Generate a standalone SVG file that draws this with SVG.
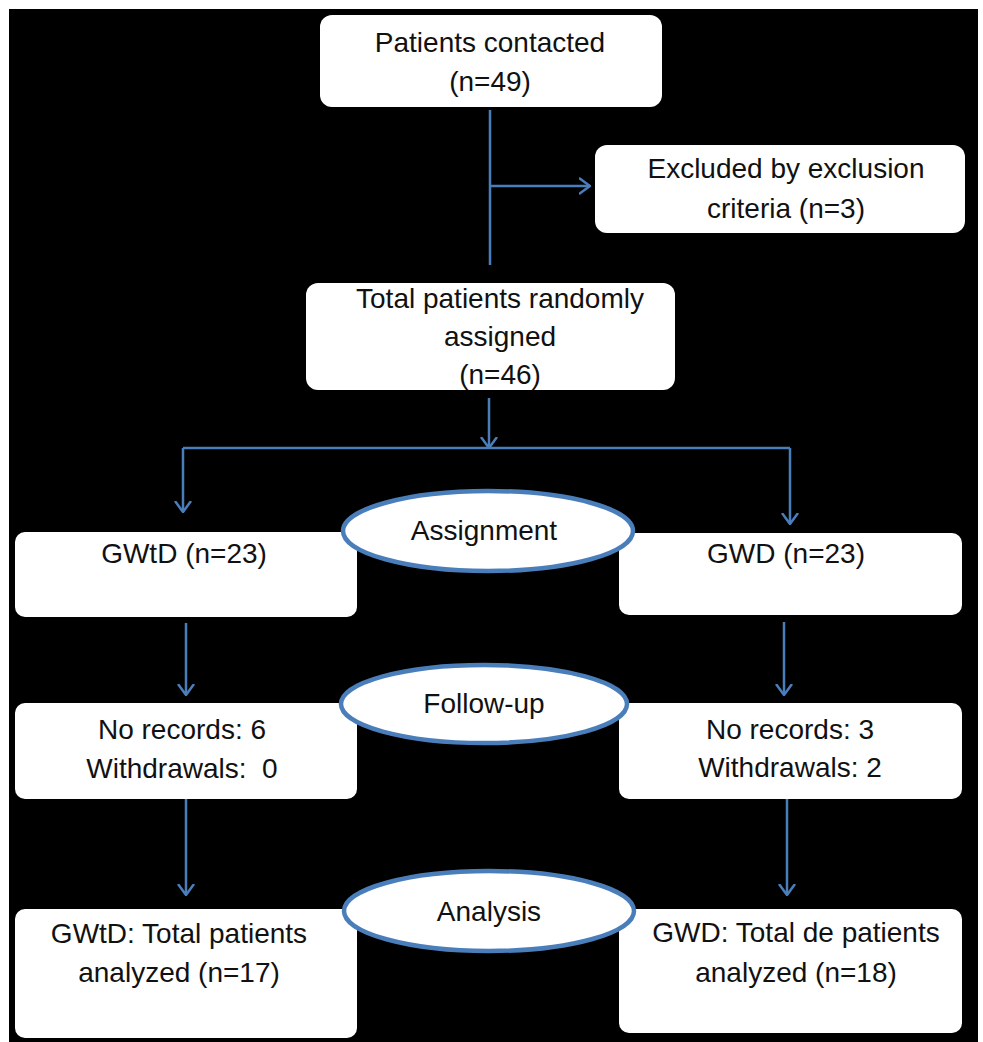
<svg xmlns="http://www.w3.org/2000/svg" width="983" height="1042" viewBox="0 0 983 1042">
<style>
.box{fill:#fff;stroke:none}
.ell{fill:#fff;stroke:#4a7ebb;stroke-width:4.5}
.t{font-family:"Liberation Sans",Arial,sans-serif;font-size:28px;fill:#111;text-anchor:middle}
.c{stroke:#4a7ebb;stroke-width:2.5;fill:none}
</style>
<defs>
<marker id="ah" viewBox="0 0 12 18" refX="11" refY="9" markerWidth="12" markerHeight="18" markerUnits="userSpaceOnUse" orient="auto">
<path d="M0,1 L11,9 L0,17" fill="none" stroke="#4a7ebb" stroke-width="2.5"/>
</marker>
</defs>
<rect x="0" y="0" width="983" height="1042" fill="#fff"/>
<rect x="9" y="9" width="969" height="1033" fill="#000"/>
<g id="connectors">
<line class="c" x1="490" y1="110" x2="490" y2="265"/>
<line class="c" x1="490" y1="186" x2="590" y2="186" marker-end="url(#ah)"/>
<line class="c" x1="489" y1="398" x2="489" y2="448" marker-end="url(#ah)"/>
<line class="c" x1="183" y1="448" x2="790" y2="448"/>
<line class="c" x1="183" y1="448" x2="183" y2="512" marker-end="url(#ah)"/>
<line class="c" x1="790" y1="448" x2="790" y2="524" marker-end="url(#ah)"/>
<line class="c" x1="186" y1="623" x2="186" y2="695" marker-end="url(#ah)"/>
<line class="c" x1="784" y1="622" x2="784" y2="695" marker-end="url(#ah)"/>
<line class="c" x1="186" y1="799" x2="186" y2="895" marker-end="url(#ah)"/>
<line class="c" x1="787" y1="799" x2="787" y2="895" marker-end="url(#ah)"/>
</g>
<g id="contacted">
<rect class="box" x="320" y="15" width="342" height="92" rx="12"/>
<text class="t" x="490" y="52">Patients contacted</text>
<text class="t" x="490" y="91">(n=49)</text>
</g>
<g id="excluded">
<rect class="box" x="595" y="145" width="370" height="88" rx="12"/>
<text class="t" x="786" y="178">Excluded by exclusion</text>
<text class="t" x="786" y="218">criteria (n=3)</text>
</g>
<g id="randomized">
<rect class="box" x="306" y="283" width="369" height="107" rx="12"/>
<text class="t" x="500" y="308">Total patients randomly</text>
<text class="t" x="500" y="346">assigned</text>
<text class="t" x="500" y="384">(n=46)</text>
</g>
<g id="gwtd">
<rect class="box" x="15" y="532" width="342" height="85" rx="10"/>
<text class="t" x="184" y="563">GWtD (n=23)</text>
</g>
<g id="gwd">
<rect class="box" x="619" y="533" width="343" height="82" rx="10"/>
<text class="t" x="786" y="563">GWD (n=23)</text>
</g>
<g id="gwtd-follow">
<rect class="box" x="15" y="703" width="342" height="96" rx="10"/>
<text class="t" x="182" y="739">No records: 6</text>
<text class="t" x="182" y="778" xml:space="preserve">Withdrawals:  0</text>
</g>
<g id="gwd-follow">
<rect class="box" x="619" y="703" width="343" height="96" rx="10"/>
<text class="t" x="790" y="739">No records: 3</text>
<text class="t" x="790" y="777">Withdrawals: 2</text>
</g>
<g id="gwtd-analysis">
<rect class="box" x="15" y="909" width="342" height="129" rx="10"/>
<text class="t" x="179" y="943">GWtD: Total patients</text>
<text class="t" x="179" y="982">analyzed (n=17)</text>
</g>
<g id="gwd-analysis">
<rect class="box" x="619" y="909" width="343" height="124" rx="10"/>
<text class="t" x="796" y="942">GWD: Total de patients</text>
<text class="t" x="796" y="982">analyzed (n=18)</text>
</g>
<g id="assignment">
<ellipse class="ell" cx="488" cy="531" rx="145" ry="40"/>
<text class="t" x="484" y="540">Assignment</text>
</g>
<g id="followup">
<ellipse class="ell" cx="484" cy="704" rx="143" ry="39"/>
<text class="t" x="484" y="713">Follow-up</text>
</g>
<g id="analysis">
<ellipse class="ell" cx="489" cy="911" rx="145" ry="40"/>
<text class="t" x="489" y="921">Analysis</text>
</g>
</svg>
